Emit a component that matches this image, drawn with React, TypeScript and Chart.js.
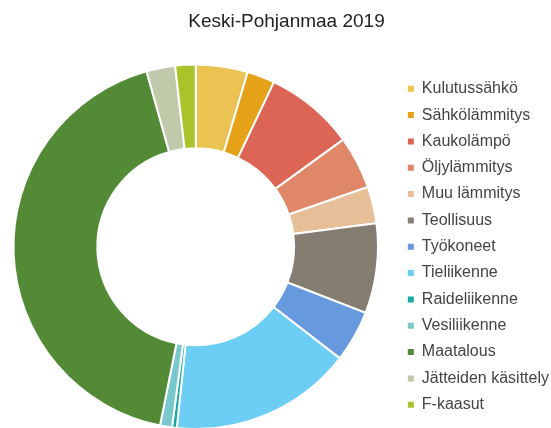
import React, { useEffect, useRef } from 'react';
import { Chart, registerables, layouts } from 'chart.js';

Chart.register(...registerables);

const TITLE = 'Keski-Pohjanmaa 2019';

const categories = [
  'Kulutussähkö',
  'Sähkölämmitys',
  'Kaukolämpö',
  'Öljylämmitys',
  'Muu lämmitys',
  'Teollisuus',
  'Työkoneet',
  'Tieliikenne',
  'Raideliikenne',
  'Vesiliikenne',
  'Maatalous',
  'Jätteiden käsittely',
  'F-kaasut',
];

const values = [46.0, 24.6, 79.4, 46.9, 32.5, 79.7, 45.8, 161.7, 4.2, 10.6, 425.1, 25.4, 18.1];

const colors = [
  '#EBC352',
  '#E5A117',
  '#DC6555',
  '#DF8768',
  '#E6BF98',
  '#857D72',
  '#6799DF',
  '#6DCEF5',
  '#19A7A7',
  '#78C8CC',
  '#528A36',
  '#C1C9AB',
  '#AAC32A',
];

const FONT = '"Liberation Sans", Arial, Helvetica, sans-serif';

const spacerPlugin = {
  id: 'rightSpacer',
  beforeInit(chart: any) {
    const box: any = {
      position: 'right',
      weight: 5000,
      fullSize: false,
      options: {},
      width: 0,
      height: 0,
      left: 0,
      top: 0,
      right: 0,
      bottom: 0,
      isHorizontal() {
        return false;
      },
      update(_maxWidth: number, maxHeight: number) {
        box.width = 20;
        box.height = maxHeight;
      },
      draw() {},
    };
    layouts.addBox(chart, box);
  },
};

export default function App() {
  const ref = useRef<HTMLCanvasElement | null>(null);

  useEffect(() => {
    if (!ref.current) return;
    const baseGen = (Chart as any).overrides.doughnut.plugins.legend.labels.generateLabels;
    const chart = new Chart(ref.current, {
      type: 'doughnut',
      data: {
        labels: categories,
        datasets: [
          {
            data: values,
            backgroundColor: colors,
            borderColor: '#ffffff',
            borderWidth: 2,
          },
        ],
      },
      options: {
        responsive: false,
        animation: false,
        cutout: '54%',
        layout: { padding: 0 },
        plugins: {
          title: {
            display: true,
            text: TITLE,
            color: '#222222',
            font: { family: FONT, size: 19, weight: 'normal' },
            padding: { top: 2, bottom: 30.7 },
          },
          legend: {
            position: 'right',
            fullSize: false,
            maxWidth: 220,
            labels: {
              boxWidth: 6,
              boxHeight: 6,
              padding: 10.33,
              color: '#444444',
              font: { family: FONT, size: 16 },
              generateLabels(c: any) {
                return baseGen(c).map((it: any) => ({ ...it, lineWidth: 0 }));
              },
            },
          },
          tooltip: { enabled: false },
        },
      } as any,
      plugins: [spacerPlugin as any],
    });
    return () => chart.destroy();
  }, []);

  return (
    <div
      style={{
        position: 'fixed',
        left: 0,
        top: 0,
        width: 551,
        height: 428,
        overflow: 'hidden',
        background: '#ffffff',
      }}
    >
      <canvas
        ref={ref}
        width={585}
        height={422}
        style={{ position: 'absolute', left: -6, top: 8, display: 'block' }}
      />
    </div>
  );
}
